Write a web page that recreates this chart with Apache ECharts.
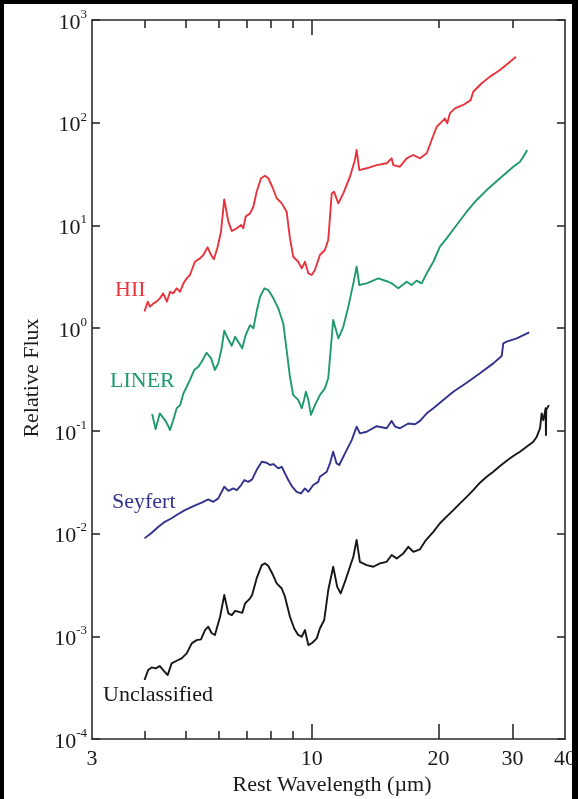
<!DOCTYPE html>
<html>
<head>
<meta charset="utf-8">
<script src="https://cdn.jsdelivr.net/npm/echarts@6/dist/echarts.min.js"></script>
<style>
  html, body { margin: 0; padding: 0; background: #000; width: 578px; height: 799px; overflow: hidden; }
  #chart { position: absolute; left: 4px; top: 4px; width: 568px; height: 795px; background: #fff; }
</style>
</head>
<body>
<div id="chart"></div>
<script>
// Mid-infrared spectra by nuclear class: rest wavelength (µm) and relative flux
const hiiWave = [4.00, 4.07, 4.12, 4.20, 4.27, 4.35, 4.43, 4.52, 4.60, 4.68, 4.77, 4.86, 4.95, 5.04, 5.13, 5.27, 5.42, 5.52, 5.65, 5.76, 5.85, 5.97, 6.08, 6.19, 6.33, 6.45, 6.63, 6.79, 6.87, 6.96, 7.13, 7.26, 7.39, 7.57, 7.74, 7.88, 8.05, 8.25, 8.48, 8.71, 8.87, 9.03, 9.28, 9.46, 9.63, 9.81, 9.99, 10.17, 10.45, 10.74, 10.94, 11.15, 11.29, 11.56, 11.88, 12.32, 12.66, 12.78, 12.97, 13.50, 14.26, 15.06, 15.48, 15.62, 16.20, 16.81, 17.43, 18.08, 18.76, 19.27, 19.81, 20.36, 20.73, 20.99, 21.31, 21.90, 22.91, 23.86, 24.20, 25.35, 26.53, 28.02, 29.32, 30.58];
const hiiFlux = [1.45, 1.81, 1.62, 1.74, 1.81, 1.95, 2.18, 1.81, 2.26, 2.18, 2.44, 2.26, 2.73, 3.05, 3.29, 4.43, 4.78, 5.15, 6.12, 5.15, 4.68, 6.21, 8.69, 17.9, 10.9, 8.82, 9.37, 10.1, 9.37, 12.2, 13.1, 15.2, 21.3, 28.8, 30.5, 28.8, 23.8, 18.4, 16.4, 13.6, 7.48, 4.96, 4.43, 3.82, 4.43, 3.42, 3.29, 3.68, 5.15, 5.76, 7.21, 20.5, 21.3, 16.4, 20.5, 29.8, 43.4, 54.2, 34.6, 36.0, 38.7, 40.3, 45.0, 38.7, 37.3, 45.0, 48.5, 45.0, 50.4, 67.9, 91.4, 102, 110, 98.7, 124, 138, 149, 166, 200, 242, 281, 326, 379, 439];

const linerWave = [4.17, 4.25, 4.35, 4.50, 4.60, 4.68, 4.77, 4.86, 4.95, 5.04, 5.13, 5.25, 5.37, 5.47, 5.62, 5.76, 5.88, 5.99, 6.10, 6.19, 6.31, 6.45, 6.57, 6.68, 6.83, 6.96, 7.13, 7.26, 7.39, 7.53, 7.71, 7.88, 8.10, 8.32, 8.55, 8.71, 8.87, 9.03, 9.28, 9.46, 9.58, 9.68, 9.81, 9.95, 10.17, 10.45, 10.74, 10.94, 11.24, 11.56, 11.88, 12.21, 12.55, 12.78, 12.97, 13.50, 14.39, 15.20, 15.48, 16.05, 16.81, 17.27, 17.75, 18.25, 18.76, 19.45, 20.17, 20.92, 22.10, 23.35, 24.66, 26.05, 28.02, 30.13, 31.26, 31.83, 32.53];
const linerFlux = [0.146, 0.104, 0.148, 0.123, 0.102, 0.127, 0.166, 0.178, 0.232, 0.269, 0.313, 0.391, 0.421, 0.471, 0.576, 0.508, 0.391, 0.454, 0.636, 0.944, 0.796, 0.674, 0.825, 0.738, 0.636, 0.857, 1.07, 0.995, 1.45, 2.02, 2.44, 2.35, 1.95, 1.56, 1.11, 0.612, 0.336, 0.223, 0.200, 0.166, 0.200, 0.240, 0.200, 0.143, 0.178, 0.223, 0.259, 0.325, 1.20, 0.796, 1.03, 1.62, 2.73, 3.96, 2.63, 2.73, 3.05, 2.83, 2.73, 2.44, 2.83, 2.63, 2.90, 2.73, 3.42, 4.43, 6.21, 7.48, 10.1, 13.6, 17.7, 22.1, 28.8, 37.3, 41.7, 46.6, 54.2];

const seyfertWave = [4.00, 4.16, 4.31, 4.47, 4.64, 4.81, 4.99, 5.23, 5.47, 5.67, 5.83, 5.99, 6.19, 6.33, 6.50, 6.63, 6.79, 6.91, 7.06, 7.21, 7.39, 7.60, 7.81, 7.95, 8.10, 8.32, 8.48, 8.63, 8.79, 8.98, 9.20, 9.42, 9.63, 9.81, 10.08, 10.36, 10.45, 10.85, 11.04, 11.24, 11.45, 11.62, 11.99, 12.44, 12.78, 13.01, 13.50, 14.26, 15.06, 15.48, 15.77, 16.20, 16.96, 17.59, 18.08, 18.76, 19.45, 20.54, 21.70, 23.35, 25.11, 27.01, 28.28, 28.53, 29.06, 30.70, 32.89];
const seyfertFlux = [0.00898, 0.0102, 0.0116, 0.0130, 0.0141, 0.0155, 0.0169, 0.0185, 0.0200, 0.0215, 0.0204, 0.0220, 0.0286, 0.0261, 0.0275, 0.0265, 0.0297, 0.0332, 0.0319, 0.0337, 0.0415, 0.0500, 0.0489, 0.0465, 0.0475, 0.0431, 0.0447, 0.0385, 0.0332, 0.0286, 0.0255, 0.0246, 0.0275, 0.0255, 0.0297, 0.0319, 0.0357, 0.0400, 0.0482, 0.0627, 0.0482, 0.0465, 0.0604, 0.0813, 0.110, 0.0946, 0.0980, 0.111, 0.106, 0.125, 0.110, 0.106, 0.118, 0.116, 0.125, 0.148, 0.166, 0.200, 0.240, 0.294, 0.363, 0.454, 0.535, 0.711, 0.738, 0.796, 0.910];

const unclassWave = [4.00, 4.08, 4.16, 4.25, 4.35, 4.43, 4.54, 4.64, 4.77, 4.90, 5.04, 5.18, 5.32, 5.45, 5.57, 5.67, 5.78, 5.88, 6.05, 6.19, 6.33, 6.45, 6.57, 6.71, 6.83, 6.94, 7.13, 7.21, 7.39, 7.60, 7.74, 7.88, 8.05, 8.25, 8.48, 8.63, 8.87, 9.08, 9.28, 9.46, 9.63, 9.81, 10.03, 10.27, 10.45, 10.70, 10.94, 11.24, 11.49, 11.71, 11.99, 12.32, 12.55, 12.78, 13.01, 13.50, 14.00, 14.52, 15.06, 15.48, 15.91, 16.50, 16.96, 17.43, 18.08, 18.68, 19.45, 20.17, 20.92, 21.70, 22.51, 23.35, 24.20, 25.11, 26.05, 27.01, 28.02, 29.06, 30.13, 31.26, 32.42, 33.63, 34.27, 34.89, 35.20, 35.52, 35.98, 36.04, 36.10, 36.63];
const unclassFlux = [3.75e-4, 4.69e-4, 4.98e-4, 4.87e-4, 5.13e-4, 4.69e-4, 4.19e-4, 5.45e-4, 5.78e-4, 6.10e-4, 6.81e-4, 8.53e-4, 9.18e-4, 9.33e-4, 1.15e-3, 1.24e-3, 1.07e-3, 1.03e-3, 1.55e-3, 2.52e-3, 1.67e-3, 1.61e-3, 1.77e-3, 1.73e-3, 1.69e-3, 2.09e-3, 2.34e-3, 2.52e-3, 3.66e-3, 4.93e-3, 5.13e-3, 4.83e-3, 4.09e-3, 3.27e-3, 2.92e-3, 2.43e-3, 1.55e-3, 1.19e-3, 1.03e-3, 9.89e-4, 1.15e-3, 8.20e-4, 8.65e-4, 9.55e-4, 1.19e-3, 1.44e-3, 2.82e-3, 4.75e-3, 3.03e-3, 2.62e-3, 3.40e-3, 4.75e-3, 5.94e-3, 8.65e-3, 5.31e-3, 4.93e-3, 4.75e-3, 5.13e-3, 5.31e-3, 6.18e-3, 5.73e-3, 6.41e-3, 7.43e-3, 6.65e-3, 7.02e-3, 8.65e-3, 1.04e-2, 1.26e-2, 1.46e-2, 1.69e-2, 1.97e-2, 2.28e-2, 2.65e-2, 3.13e-2, 3.57e-2, 4.00e-2, 4.54e-2, 5.12e-2, 5.69e-2, 6.27e-2, 7.00e-2, 7.83e-2, 8.77e-2, 0.106, 0.148, 0.127, 0.166, 0.091, 0.160, 0.178];

// Axis ticks and labels
const xLabelValues = [3, 10, 20, 30, 40];
const xBottomMajor = [10, 20, 30];
const xBottomMinor = [4, 5, 6, 7, 8, 9];
const xTopMajor = [10];
const xTopMinor = [4, 5, 6, 7, 8, 9, 20, 30];
const yMin = 1e-4, yMax = 1e3;

const classNames = ['HII', 'LINER', 'Seyfert', 'Unclassified'];
const classColors = ['#e8343e', '#1f9a70', '#33328f', '#161616'];

const zip = (xs, ys) => xs.map((x, i) => [x, ys[i]]);
const spectra = [zip(hiiWave, hiiFlux), zip(linerWave, linerFlux), zip(seyfertWave, seyfertFlux), zip(unclassWave, unclassFlux)];

const serif = '"Liberation Serif", "Times New Roman", Times, serif';
const frame = { color: '#2b2b2b', width: 1.6 };

function xAxis(position, ticks, len, extra) {
  return Object.assign({
    type: 'log', logBase: 10, min: 3, max: 40, position,
    splitLine: { show: false },
    axisLine: { show: false, onZero: false },
    axisTick: { show: true, inside: true, length: len, customValues: ticks, lineStyle: frame },
    axisLabel: { show: false }
  }, extra || {});
}

const chart = echarts.init(document.getElementById('chart'), null, { renderer: 'canvas' });

chart.setOption({
  animation: false,
  backgroundColor: '#fff',
  grid: { left: 88, top: 16, width: 473, height: 719, containLabel: false, outerBoundsMode: 'none' },
  xAxis: [
    xAxis('bottom', xBottomMajor, 15, {
      axisLine: { show: true, onZero: false, lineStyle: frame },
      axisLabel: {
        show: true, customValues: xLabelValues, margin: 9,
        fontFamily: serif, fontSize: 22, color: '#1a1a1a',
        formatter: v => String(Math.round(v))
      }
    }),
    xAxis('bottom', xBottomMinor, 8),
    xAxis('top', xTopMajor, 15, { axisLine: { show: true, onZero: false, lineStyle: frame } }),
    xAxis('top', xTopMinor, 8)
  ],
  yAxis: [
    {
      type: 'log', logBase: 10, min: yMin, max: yMax, position: 'left',
      splitLine: { show: false },
      axisLine: { show: true, onZero: false, lineStyle: frame },
      axisTick: { show: true, inside: true, length: 8, lineStyle: frame },
      axisLabel: {
        margin: 5,
        formatter: v => '{b|10}{s|' + Math.round(Math.log10(v)) + '}',
        rich: {
          b: { fontFamily: serif, fontSize: 22, color: '#1a1a1a', lineHeight: 24, padding: [6, 0, 0, 0] },
          s: { fontFamily: serif, fontSize: 13, color: '#1a1a1a', verticalAlign: 'top', lineHeight: 14 }
        }
      }
    },
    {
      type: 'log', logBase: 10, min: yMin, max: yMax, position: 'right',
      splitLine: { show: false },
      axisLine: { show: true, onZero: false, lineStyle: frame },
      axisTick: { show: true, inside: true, length: 8, lineStyle: frame },
      axisLabel: { show: false }
    }
  ],
  series: spectra.map((d, i) => ({
    name: classNames[i], type: 'line', data: d,
    xAxisIndex: 0, yAxisIndex: 0,
    showSymbol: false, symbol: 'none', smooth: false,
    lineStyle: { color: classColors[i], width: 1.9, join: 'round' },
    itemStyle: { color: classColors[i] },
    z: 3
  })),
  graphic: [
    { type: 'text', left: 111, top: 275, style: { text: classNames[0], font: '22px ' + serif, fill: classColors[0] } },
    { type: 'text', left: 106, top: 366, style: { text: classNames[1], font: '22px ' + serif, fill: classColors[1] } },
    { type: 'text', left: 108, top: 487, style: { text: classNames[2], font: '22px ' + serif, fill: classColors[2] } },
    { type: 'text', left: 99, top: 680, style: { text: classNames[3], font: '22px ' + serif, fill: classColors[3] } },
    { type: 'text', x: 28, y: 374, rotation: Math.PI / 2,
      style: { text: 'Relative Flux', font: '22px ' + serif, fill: '#1a1a1a', textAlign: 'center', textVerticalAlign: 'middle' } },
    { type: 'text', x: 328, y: 781,
      style: { text: 'Rest Wavelength (\u00b5m)', font: '22px ' + serif, fill: '#1a1a1a', textAlign: 'center', textVerticalAlign: 'middle' } }
  ]
});
</script>
</body>
</html>
